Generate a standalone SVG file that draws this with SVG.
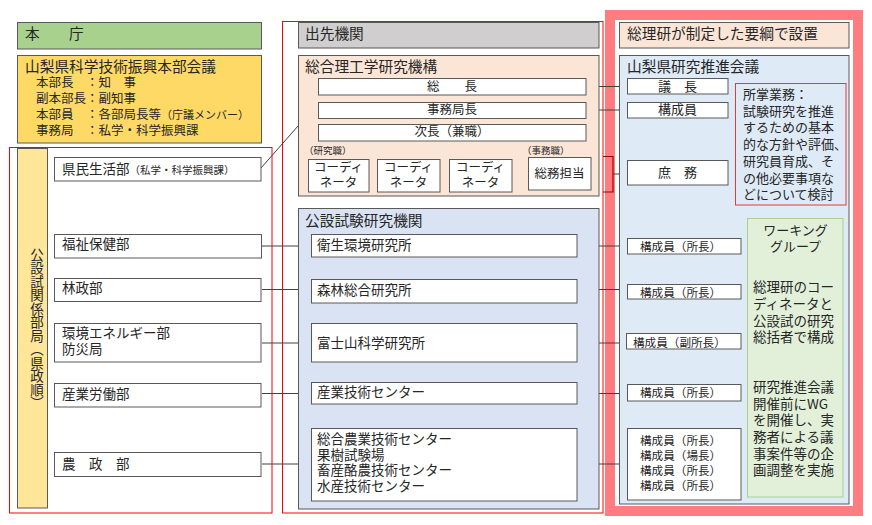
<svg xmlns="http://www.w3.org/2000/svg" width="872" height="525" viewBox="0 0 872 525">
<defs>
<style>
text{font-family:"Noto Sans CJK JP","Noto Sans",sans-serif;fill:#262626;}
.box{stroke:#595959;stroke-width:1;}
.w{fill:#ffffff;}
.red{fill:none;stroke:#ff0000;stroke-width:1;}
.f147{font-size:14.7px;}
.f135{font-size:13.5px;}
.f13{font-size:13px;}
.f125{font-size:12.5px;}
.f12{font-size:11.6px;}
.f10{font-size:9.5px;}
.mid{text-anchor:middle;}
.con{stroke:#404040;stroke-width:1;fill:none;}
</style>
</defs>
<rect x="0" y="0" width="872" height="525" fill="#ffffff"/>

<g id="frames">
<rect class="red" x="9.5" y="147.5" width="262.5" height="365.5"/>
<rect class="red" x="282.5" y="21.5" width="320.5" height="491.5"/>
<rect x="610" y="15" width="248" height="496" fill="#ffffff" stroke="#ff7c80" stroke-width="10"/>
</g>

<g id="connectors">
<line class="con" x1="261" y1="168" x2="298" y2="126"/>
<line class="con" x1="586" y1="86.5" x2="627" y2="86.5"/>
<line class="con" x1="586" y1="110" x2="627" y2="110"/>
<polyline points="603,156.5 613,156.5 613,192 603,192" fill="none" stroke="#a00000" stroke-width="1.2"/>
<line class="con" x1="613" y1="174" x2="627" y2="174"/>
<line class="con" x1="262" y1="246" x2="311" y2="246"/>
<line class="con" x1="577" y1="246" x2="627" y2="246"/>
<line class="con" x1="262" y1="289.5" x2="311" y2="289.5"/>
<line class="con" x1="577" y1="289.5" x2="627" y2="289.5"/>
<line class="con" x1="262" y1="343" x2="311" y2="343"/>
<line class="con" x1="577" y1="343" x2="627" y2="343"/>
<line class="con" x1="262" y1="393.5" x2="311" y2="393.5"/>
<line class="con" x1="577" y1="393.5" x2="627" y2="393.5"/>
<line class="con" x1="262" y1="464" x2="311" y2="464"/>
<line class="con" x1="577" y1="464" x2="627" y2="464"/>
</g>

<g id="honcho">
<rect class="box" x="17.5" y="22.5" width="244" height="26.5" fill="#a9d18e"/>
<text class="f147" x="25" y="39">本　　庁</text>
</g>
<g id="honbu-kaigi">
<rect class="box" x="17.5" y="55.5" width="244" height="87.5" fill="#ffd966"/>
<text class="f147" x="25" y="71.5">山梨県科学技術振興本部会議</text>
<text class="f125"><tspan x="36" y="87">本部長</tspan><tspan x="86" y="87">：知　事</tspan><tspan x="36" y="103">副本部長：副知事</tspan><tspan x="36" y="119">本部員</tspan><tspan x="86" y="119">：各部局長等</tspan><tspan font-size="11px">（庁議メンバー）</tspan><tspan x="36" y="134.5">事務局</tspan><tspan x="86" y="134.5">：私学・科学振興課</tspan></text>
</g>
<g id="koseshi-kankei">
<rect class="box" x="17.5" y="148.5" width="30" height="359.5" fill="#ffe699"/>
<text x="37" y="248" font-size="13.5px" style="writing-mode:vertical-rl">公設試関係部局（県政順）</text>
</g>
<g id="kenmin">
<rect class="box w" x="54.5" y="157.5" width="206.5" height="23.5"/>
<text class="f135" x="62" y="174">県民生活部<tspan font-size="10.5px">（私学・科学振興課）</tspan></text>
</g>
<g id="fukushi">
<rect class="box w" x="54.5" y="234.5" width="207" height="23.5"/>
<text class="f135" x="62" y="249">福祉保健部</text>
</g>
<g id="rinsei">
<rect class="box w" x="54.5" y="278.5" width="206.5" height="23"/>
<text class="f135" x="62" y="292.5">林政部</text>
</g>
<g id="kankyo">
<rect class="box w" x="54.5" y="323.5" width="206.5" height="38.5"/>
<text class="f135"><tspan x="62" y="338">環境エネルギー部</tspan><tspan x="62" y="354">防災局</tspan></text>
</g>
<g id="sangyo-rodo">
<rect class="box w" x="54.5" y="383.5" width="206.5" height="23.5"/>
<text class="f135" x="62" y="399">産業労働部</text>
</g>
<g id="nosei">
<rect class="box w" x="54.5" y="452.5" width="206.5" height="24"/>
<text class="f135" x="62" y="469">農　政　部</text>
</g>

<g id="desaki">
<rect class="box" x="298.5" y="22.5" width="300.5" height="25.5" fill="#d0cece"/>
<text class="f147" x="305" y="39">出先機関</text>
</g>
<g id="sogoriko">
<rect class="box" x="298.5" y="55.5" width="300.5" height="140.5" fill="#fbe5d6"/>
<text class="f147" x="305" y="72">総合理工学研究機構</text>
<text class="f10" x="304" y="154">（研究職）</text>
<text class="f10" x="522" y="154">（事務職）</text>
</g>
<g id="socho">
<rect class="box w" x="318.5" y="78.5" width="267.5" height="16.5"/>
<text class="f125 mid" x="452" y="91">総　　長</text>
</g>
<g id="jimukyokucho">
<rect class="box w" x="318.5" y="102.5" width="267.5" height="16"/>
<text class="f125 mid" x="452" y="114">事務局長</text>
</g>
<g id="jicho">
<rect class="box w" x="318.5" y="124.5" width="267.5" height="16.5"/>
<text class="f125 mid" x="452" y="136">次長（兼職）</text>
</g>
<g id="coordinator1">
<rect class="box w" x="308.5" y="159.5" width="60.5" height="32.5"/>
<text class="f125 mid"><tspan x="338.5" y="172">コーディ</tspan><tspan x="338.5" y="187">ネータ</tspan></text>
</g>
<g id="coordinator2">
<rect class="box w" x="377.5" y="159.5" width="62.5" height="32.5"/>
<text class="f125 mid"><tspan x="408.5" y="172">コーディ</tspan><tspan x="408.5" y="187">ネータ</tspan></text>
</g>
<g id="coordinator3">
<rect class="box w" x="449.5" y="159.5" width="62.5" height="32.5"/>
<text class="f125 mid"><tspan x="480.5" y="172">コーディ</tspan><tspan x="480.5" y="187">ネータ</tspan></text>
</g>
<g id="somu">
<rect class="box w" x="528.5" y="157.5" width="62.5" height="32.5"/>
<text class="f125 mid" x="559.5" y="178">総務担当</text>
</g>
<g id="koseshi">
<rect class="box" x="298.5" y="208.5" width="300.5" height="300.5" fill="#dae3f3"/>
<text class="f147" x="305" y="226">公設試験研究機関</text>
</g>
<g id="eisei">
<rect class="box w" x="311.5" y="234.5" width="265.5" height="22.5"/>
<text class="f135" x="317" y="250">衛生環境研究所</text>
</g>
<g id="shinrin">
<rect class="box w" x="311.5" y="279.5" width="265.5" height="23.5"/>
<text class="f135" x="317" y="295">森林総合研究所</text>
</g>
<g id="fujisan">
<rect class="box w" x="311.5" y="323.5" width="265.5" height="38.5"/>
<text class="f135" x="317" y="348">富士山科学研究所</text>
</g>
<g id="sangyo-gijutsu">
<rect class="box w" x="311.5" y="382.5" width="265.5" height="21.5"/>
<text class="f135" x="317" y="397">産業技術センター</text>
</g>
<g id="nogyo">
<rect class="box w" x="311.5" y="428.5" width="265.5" height="72.5"/>
<text class="f135"><tspan x="317" y="444">総合農業技術センター</tspan><tspan x="317" y="459.5">果樹試験場</tspan><tspan x="317" y="475">畜産酪農技術センター</tspan><tspan x="317" y="491">水産技術センター</tspan></text>
</g>

<g id="yoko">
<rect class="box" x="619.5" y="22.5" width="229.5" height="25.5" fill="#fbe5d6"/>
<text class="f147" x="627" y="39">総理研が制定した要綱で設置</text>
</g>
<g id="suishin-kaigi">
<rect class="box" x="619.5" y="55.5" width="229.5" height="448.5" fill="#deebf7"/>
<text class="f147" x="627" y="72">山梨県研究推進会議</text>
</g>
<g id="gicho">
<rect class="box w" x="627.5" y="78.5" width="100.5" height="15.5"/>
<text class="f13 mid" x="677.5" y="91">議　長</text>
</g>
<g id="koseiin">
<rect class="box w" x="627.5" y="102.5" width="100.5" height="15.5"/>
<text class="f13 mid" x="677.5" y="114">構成員</text>
</g>
<g id="shomu">
<rect class="box w" x="627.5" y="160.5" width="100.5" height="24.5"/>
<text class="f13 mid" x="677.5" y="177">庶　務</text>
</g>
<g id="shosho">
<rect x="735.5" y="83.5" width="110.5" height="121.5" fill="#deebf7" stroke="#e03c3c" stroke-width="1"/>
<text class="f13"><tspan x="743" y="99">所掌業務：</tspan><tspan x="743" y="115.7">試験研究を推進</tspan><tspan x="743" y="132.4">するための基本</tspan><tspan x="743" y="149">的な方針や評価、</tspan><tspan x="743" y="165.8">研究員育成、そ</tspan><tspan x="743" y="182.5">の他必要事項な</tspan><tspan x="743" y="199">どについて検討</tspan></text>
</g>
<g id="working-group">
<rect x="747.5" y="218.5" width="95.5" height="278.5" fill="#e2f0d9" stroke="#a9d18e" stroke-width="1"/>
<text class="f13 mid"><tspan x="795.5" y="235">ワーキング</tspan><tspan x="795.5" y="251">グループ</tspan></text>
<text class="f135"><tspan x="753" y="292">総理研のコー</tspan><tspan x="753" y="309">ディネータと</tspan><tspan x="753" y="326">公設試の研究</tspan><tspan x="753" y="342">総括者で構成</tspan></text>
<text class="f135"><tspan x="753" y="392">研究推進会議</tspan><tspan x="753" y="409">開催前にWG</tspan><tspan x="753" y="425">を開催し、実</tspan><tspan x="753" y="442">務者による議</tspan><tspan x="753" y="459">事案件等の企</tspan><tspan x="753" y="475">画調整を実施</tspan></text>
</g>
<g id="member1">
<rect class="box w" x="627.5" y="238.5" width="113.5" height="15.5"/>
<text class="f12" x="640" y="251">構成員（所長）</text>
</g>
<g id="member2">
<rect class="box w" x="627.5" y="284.5" width="113.5" height="14.5"/>
<text class="f12" x="640" y="296.5">構成員（所長）</text>
</g>
<g id="member3">
<rect class="box w" x="626.5" y="333.5" width="114.5" height="15.5"/>
<text class="f12" x="633" y="346.5">構成員（副所長）</text>
</g>
<g id="member4">
<rect class="box w" x="627.5" y="384.5" width="113.5" height="16.5"/>
<text class="f12" x="640" y="397">構成員（所長）</text>
</g>
<g id="member5">
<rect class="box w" x="627.5" y="428.5" width="113.5" height="71.5"/>
<text class="f12"><tspan x="640" y="445">構成員（所長）</tspan><tspan x="640" y="460">構成員（場長）</tspan><tspan x="640" y="475">構成員（所長）</tspan><tspan x="640" y="490">構成員（所長）</tspan></text>
</g>
</svg>
